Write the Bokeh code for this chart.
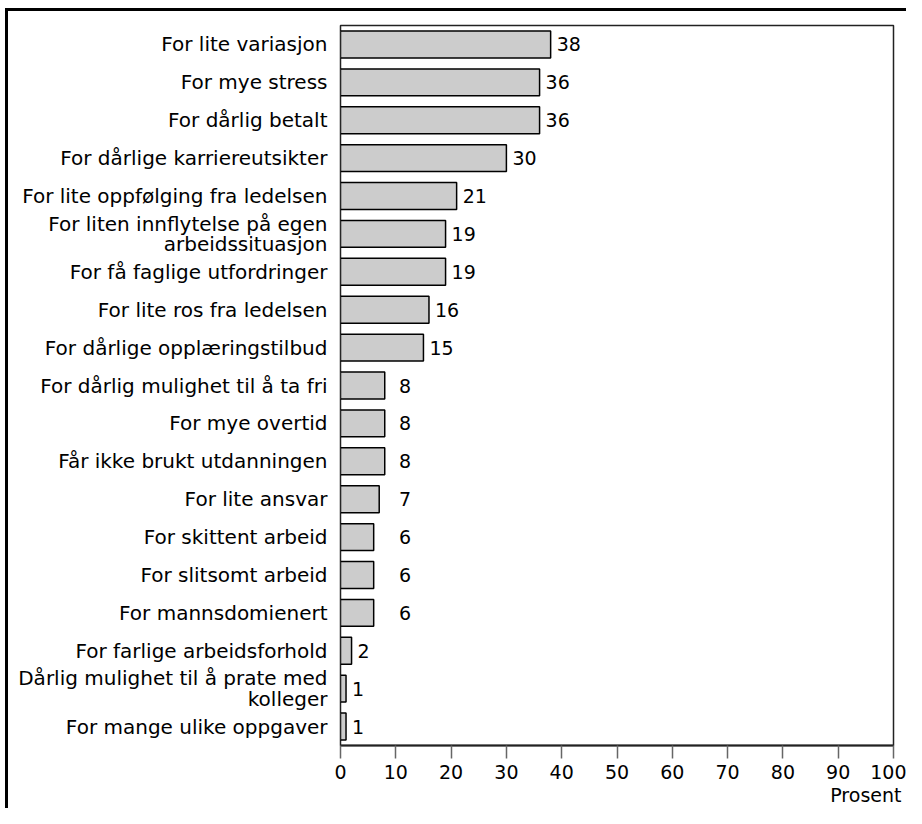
from bokeh.plotting import figure
from bokeh.models import ColumnDataSource, Range1d, FixedTicker, LinearAxis
from bokeh.core.properties import value
from bokeh.embed import file_html
from bokeh.resources import INLINE

categories = [
    "For lite variasjon",
    "For mye stress",
    "For dårlig betalt",
    "For dårlige karriereutsikter",
    "For lite oppfølging fra ledelsen",
    "For liten innflytelse på egen\narbeidssituasjon",
    "For få faglige utfordringer",
    "For lite ros fra ledelsen",
    "For dårlige opplæringstilbud",
    "For dårlig mulighet til å ta fri",
    "For mye overtid",
    "Får ikke brukt utdanningen",
    "For lite ansvar",
    "For skittent arbeid",
    "For slitsomt arbeid",
    "For mannsdomienert",
    "For farlige arbeidsforhold",
    "Dårlig mulighet til å prate med\nkolleger",
    "For mange ulike oppgaver",
]
values = [38, 36, 36, 30, 21, 19, 19, 16, 15, 8, 8, 8, 7, 6, 6, 6, 2, 1, 1]
x_ticks = [0, 10, 20, 30, 40, 50, 60, 70, 80, 90, 100]
x_title = "Prosent"

FONT = "DejaVu Sans"
FS = "19px"
FS_CAT = "20px"

# labels of the mid-sized bars sit in one aligned column, as in the original
label_x = [v if (v >= 10 or v <= 2) else 9.5 for v in values]
labels = [str(v) for v in values]

src = ColumnDataSource(dict(cat=categories, val=values, lx=label_x, lab=labels))

p = figure(
    width=906, height=808,
    y_range=list(reversed(categories)),
    x_range=Range1d(0, 100),
    output_backend="svg", toolbar_location=None,
    min_border_left=340, min_border_right=13, min_border_top=25, min_border_bottom=62,
)
p.border_fill_color = None
p.background_fill_color = "white"
p.styles = {
    "background": ("linear-gradient(#000,#000) 5px 8px / 3px 100% no-repeat, "
                   "linear-gradient(#000,#000) 5px 8px / 100% 3px no-repeat, white"),
}

p.hbar(y="cat", right="val", left=0, height=0.71, source=src,
       fill_color="#cccccc", line_color="black", line_width=1.5)

p.text(x="lx", y="cat", text="lab", source=src, x_offset=6,
       text_align="left", text_baseline="middle",
       text_font=value(FONT), text_font_size=FS, text_color="black")

p.xgrid.visible = False
p.ygrid.visible = False
p.outline_line_color = "#222222"
p.outline_line_width = 1.5

xa = p.xaxis[0]
xa.ticker = FixedTicker(ticks=x_ticks)
xa.axis_line_color = "#222222"
xa.axis_line_width = 2
xa.major_tick_out = 13
xa.major_tick_in = 0
xa.major_tick_line_color = "#666666"
xa.major_tick_line_width = 1.5
xa.minor_tick_line_color = None
xa.major_label_standoff = 6
xa.major_label_text_font = FONT
xa.major_label_text_font_size = FS
xa.major_label_text_color = "black"

# second, bare axis below carrying the unit title at the right end
ta = LinearAxis(ticker=FixedTicker(ticks=[95]), major_label_overrides={95: x_title})
ta.axis_line_color = None
ta.major_tick_line_color = None
ta.minor_tick_line_color = None
ta.major_tick_out = 0
ta.major_tick_in = 0
ta.major_label_standoff = 2
ta.major_label_text_font = FONT
ta.major_label_text_font_size = FS
ta.major_label_text_color = "black"
p.add_layout(ta, "below")

ya = p.yaxis[0]
ya.axis_line_color = None
ya.major_tick_line_color = None
ya.minor_tick_line_color = None
ya.major_tick_out = 0
ya.major_tick_in = 0
ya.major_label_standoff = 13
ya.major_label_text_font = FONT
ya.major_label_text_font_size = FS_CAT
ya.major_label_text_color = "black"
ya.major_label_text_line_height = 0.85

open("out.html", "w").write(file_html(p, INLINE))
